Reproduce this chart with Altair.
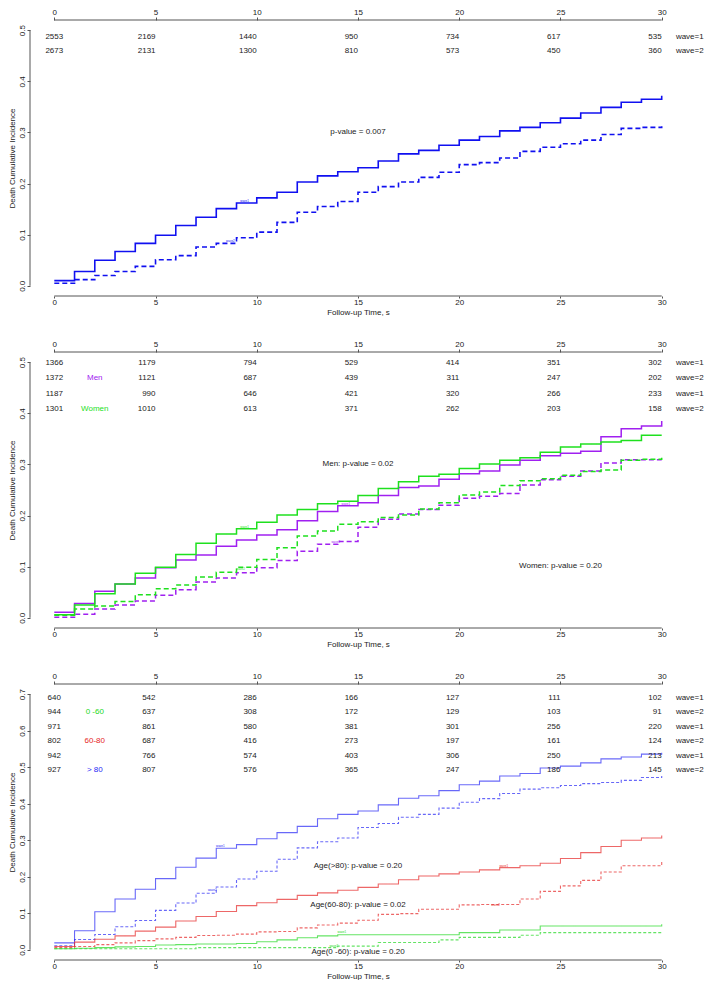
import altair as alt
import pandas as pd

FONT = "Liberation Sans"
TIMES = list(range(31))
X_TICKS = [0, 5, 10, 15, 20, 25, 30]
RISK_TIMES = [0, 5, 10, 15, 20, 25, 30]

# ---------------- Panel 1 : all subjects ----------------
P1_WAVE1 = [0.010, 0.028, 0.050, 0.067, 0.083, 0.099, 0.118, 0.134, 0.151, 0.162,
            0.172, 0.183, 0.203, 0.215, 0.223, 0.231, 0.244, 0.258, 0.265, 0.275,
            0.285, 0.292, 0.303, 0.310, 0.319, 0.328, 0.338, 0.349, 0.359, 0.365, 0.372]
P1_WAVE2 = [0.005, 0.012, 0.020, 0.028, 0.038, 0.051, 0.059, 0.076, 0.083, 0.094,
            0.105, 0.124, 0.144, 0.155, 0.165, 0.183, 0.194, 0.203, 0.212, 0.222,
            0.237, 0.241, 0.250, 0.263, 0.271, 0.278, 0.285, 0.296, 0.308, 0.310, 0.312]
P1_RISK = [[2553, 2169, 1440, 950, 734, 617, 535],
           [2673, 2131, 1300, 810, 573, 450, 360]]
P1_ROW_Y = [0.486, 0.460]
P1_PVALUES = [("p-value = 0.007", 15, 0.300)]

# ---------------- Panel 2 : Men / Women ----------------
P2_MEN_W1 = [0.011, 0.028, 0.052, 0.066, 0.078, 0.098, 0.113, 0.123, 0.140, 0.152,
             0.162, 0.172, 0.190, 0.208, 0.219, 0.225, 0.239, 0.255, 0.258, 0.271,
             0.282, 0.287, 0.299, 0.308, 0.317, 0.322, 0.326, 0.354, 0.370, 0.375, 0.385]
P2_MEN_W2 = [0.001, 0.007, 0.017, 0.025, 0.033, 0.044, 0.055, 0.070, 0.078, 0.088,
             0.098, 0.112, 0.130, 0.144, 0.149, 0.177, 0.193, 0.203, 0.212, 0.220,
             0.234, 0.238, 0.243, 0.260, 0.270, 0.277, 0.287, 0.303, 0.309, 0.309, 0.309]
P2_WOMEN_W1 = [0.006, 0.025, 0.047, 0.066, 0.087, 0.099, 0.124, 0.146, 0.164, 0.174,
               0.187, 0.201, 0.212, 0.223, 0.228, 0.239, 0.253, 0.266, 0.277, 0.281,
               0.292, 0.301, 0.308, 0.313, 0.324, 0.334, 0.340, 0.344, 0.347, 0.357, 0.357]
P2_WOMEN_W2 = [0.005, 0.017, 0.023, 0.032, 0.045, 0.057, 0.064, 0.080, 0.089, 0.099,
               0.114, 0.137, 0.160, 0.170, 0.183, 0.188, 0.196, 0.201, 0.213, 0.225,
               0.240, 0.246, 0.259, 0.268, 0.272, 0.279, 0.286, 0.289, 0.308, 0.310, 0.314]
P2_RISK = [[1366, 1179, 794, 529, 414, 351, 302],
           [1372, 1121, 687, 439, 311, 247, 202],
           [1187, 990, 646, 421, 320, 266, 233],
           [1301, 1010, 613, 371, 262, 203, 158]]
P2_ROW_Y = [0.498, 0.469, 0.438, 0.409]
P2_GROUP_LABELS = [("Men", 1), ("Women", 3)]
P2_PVALUES = [("Men: p-value = 0.02", 15, 0.301), ("Women: p-value = 0.20", 25, 0.102)]

# ---------------- Panel 3 : age groups ----------------
P3_O80_W1 = [0.019, 0.052, 0.104, 0.139, 0.166, 0.195, 0.226, 0.251, 0.278, 0.288,
             0.304, 0.321, 0.338, 0.359, 0.371, 0.380, 0.397, 0.415, 0.422, 0.436,
             0.452, 0.462, 0.476, 0.483, 0.498, 0.503, 0.512, 0.523, 0.528, 0.536, 0.540]
P3_O80_W2 = [0.011, 0.028, 0.042, 0.063, 0.080, 0.108, 0.128, 0.155, 0.172, 0.194,
             0.215, 0.248, 0.279, 0.296, 0.306, 0.335, 0.346, 0.363, 0.371, 0.388,
             0.404, 0.414, 0.428, 0.440, 0.444, 0.450, 0.455, 0.458, 0.464, 0.472, 0.476]
P3_6080_W1 = [0.009, 0.021, 0.029, 0.038, 0.051, 0.062, 0.079, 0.091, 0.105, 0.121,
              0.129, 0.138, 0.149, 0.156, 0.163, 0.171, 0.180, 0.192, 0.202, 0.208,
              0.213, 0.219, 0.225, 0.230, 0.237, 0.250, 0.266, 0.283, 0.300, 0.306, 0.313]
P3_6080_W2 = [0.006, 0.009, 0.014, 0.019, 0.025, 0.030, 0.034, 0.039, 0.040, 0.043,
              0.049, 0.050, 0.060, 0.068, 0.073, 0.081, 0.097, 0.099, 0.111, 0.111,
              0.123, 0.124, 0.124, 0.139, 0.160, 0.175, 0.190, 0.213, 0.230, 0.230, 0.242]
P3_060_W1 = [0.003, 0.004, 0.006, 0.008, 0.009, 0.013, 0.014, 0.016, 0.016, 0.017,
             0.022, 0.027, 0.033, 0.038, 0.041, 0.041, 0.041, 0.041, 0.041, 0.041,
             0.047, 0.047, 0.054, 0.054, 0.065, 0.065, 0.065, 0.065, 0.065, 0.065, 0.070]
P3_060_W2 = [0.003, 0.003, 0.003, 0.003, 0.003, 0.003, 0.003, 0.006, 0.006, 0.006,
             0.006, 0.006, 0.006, 0.006, 0.010, 0.010, 0.020, 0.020, 0.020, 0.027,
             0.034, 0.034, 0.034, 0.040, 0.047, 0.047, 0.047, 0.047, 0.047, 0.047, 0.050]
P3_RISK = [[640, 542, 286, 166, 127, 111, 102],
           [944, 637, 308, 172, 129, 103, 91],
           [971, 861, 580, 381, 301, 256, 220],
           [802, 687, 416, 273, 197, 161, 124],
           [942, 766, 574, 403, 306, 250, 213],
           [927, 807, 576, 365, 247, 186, 145]]
P3_ROW_Y = [0.689, 0.652, 0.611, 0.571, 0.530, 0.493]
P3_GROUP_LABELS = [("0 -60", 1), ("60-80", 3), ("> 80", 5)]
P3_PVALUES = [("Age(>80): p-value = 0.20", 15, 0.230),
              ("Age(60-80): p-value = 0.02", 15, 0.123),
              ("Age(0 -60): p-value = 0.20", 15, -0.005)]

WAVE_LABELS = ["wave=1", "wave=2"]


def curves_frame(series):
    rows = []
    for group, wave, vals in series:
        for t, v in zip(TIMES, vals):
            rows.append({"group": group, "wave": wave, "t": t, "v": v})
    return pd.DataFrame(rows)


def make_panel(series, color_domain, color_range, dash_range, line_width, line_opacity,
               ydom, yticks, risk, row_y, group_labels, pvalues, tiny):
    xs = alt.Scale(domain=[-1.2, 31.2], nice=False, zero=False)
    ys = alt.Scale(domain=ydom, nice=False, zero=False)
    cscale = alt.Scale(domain=color_domain, range=color_range)

    lines = alt.Chart(curves_frame(series)).mark_line(
        interpolate="step-after", strokeWidth=line_width, opacity=line_opacity
    ).encode(
        x=alt.X("t:Q", scale=xs, axis=alt.Axis(
            orient="bottom", values=X_TICKS, title="Follow-up Time, s", domain=False,
            grid=False, tickSize=2, labelPadding=0, titlePadding=2, format="d")),
        y=alt.Y("v:Q", scale=ys, axis=alt.Axis(
            orient="left", values=yticks, title="Death Cumulative Incidence", format=".1f",
            labelAngle=-90, labelAlign="center", labelBaseline="bottom", domain=False,
            grid=False, tickSize=3, labelPadding=1, titlePadding=2)),
        color=alt.Color("group:N", scale=cscale, legend=None),
        strokeDash=alt.StrokeDash("wave:N", scale=alt.Scale(domain=["1", "2"], range=dash_range),
                                  legend=None),
    )

    axis_lines = pd.DataFrame([
        {"t": 0, "t2": 30, "v": ydom[0], "v2": ydom[0]},
        {"t": 0, "t2": 30, "v": ydom[1], "v2": ydom[1]},
        {"t": -1.2, "t2": -1.2, "v": yticks[0], "v2": yticks[-1]},
    ])
    rules = alt.Chart(axis_lines).mark_rule(color="#555555", strokeWidth=1).encode(
        x=alt.X("t:Q", scale=xs, axis=None), x2="t2:Q",
        y=alt.Y("v:Q", scale=ys, axis=None), y2="v2:Q",
    )

    first, rest, wl = [], [], []
    for i, row in enumerate(risk):
        for j, n in enumerate(row):
            rec = {"t": RISK_TIMES[j], "v": row_y[i], "label": str(n)}
            (first if j == 0 else rest).append(rec)
        wl.append({"t": 30.7, "v": row_y[i], "label": WAVE_LABELS[i % 2]})

    risk_rest = alt.Chart(pd.DataFrame(rest)).mark_text(
        align="right", baseline="middle", fontSize=8, color="#222222"
    ).encode(
        x=alt.X("t:Q", scale=xs, axis=alt.Axis(
            orient="top", values=X_TICKS, title=None, domain=False, grid=False,
            tickSize=3, labelPadding=1, format="d")),
        y=alt.Y("v:Q", scale=ys, axis=None),
        text="label:N",
    )
    risk_first = alt.Chart(pd.DataFrame(first)).mark_text(
        align="center", baseline="middle", fontSize=8, color="#222222"
    ).encode(
        x=alt.X("t:Q", scale=xs, axis=None), y=alt.Y("v:Q", scale=ys, axis=None),
        text="label:N",
    )
    wave_text = alt.Chart(pd.DataFrame(wl)).mark_text(
        align="left", baseline="middle", fontSize=8, color="#222222"
    ).encode(
        x=alt.X("t:Q", scale=xs, axis=None), y=alt.Y("v:Q", scale=ys, axis=None),
        text="label:N",
    )
    pv = pd.DataFrame([{"label": s, "t": t, "v": v} for s, t, v in pvalues])
    pv_text = alt.Chart(pv).mark_text(
        align="center", baseline="middle", fontSize=8, color="#222222"
    ).encode(
        x=alt.X("t:Q", scale=xs, axis=None), y=alt.Y("v:Q", scale=ys, axis=None),
        text="label:N",
    )
    tiny_df = pd.DataFrame([{"group": g, "label": s, "t": t, "v": v} for g, s, t, v in tiny])
    tiny_text = alt.Chart(tiny_df).mark_text(
        align="center", baseline="bottom", fontSize=3
    ).encode(
        x=alt.X("t:Q", scale=xs, axis=None), y=alt.Y("v:Q", scale=ys, axis=None),
        text="label:N", color=alt.Color("group:N", scale=cscale, legend=None),
    )
    layers = [lines, rules, risk_rest, risk_first, wave_text, pv_text, tiny_text]
    if group_labels:
        gl = pd.DataFrame([{"group": g, "label": g, "t": 2, "v": row_y[i]} for g, i in group_labels])
        layers.append(alt.Chart(gl).mark_text(
            align="center", baseline="middle", fontSize=8
        ).encode(
            x=alt.X("t:Q", scale=xs, axis=None), y=alt.Y("v:Q", scale=ys, axis=None),
            text="label:N", color=alt.Color("group:N", scale=cscale, legend=None),
        ))
    return alt.layer(*layers).resolve_axis(x="independent", y="independent").properties(
        width=656, height=276)


p1 = make_panel(
    [("all", "1", P1_WAVE1), ("all", "2", P1_WAVE2)],
    ["all"], ["#1010F0"], [[1, 0], [5, 3]], 1.6, 1.0,
    [-0.02, 0.52], [0, 0.1, 0.2, 0.3, 0.4, 0.5], P1_RISK, P1_ROW_Y, [], P1_PVALUES,
    [("all", "wave1", 9.4, 0.163), ("all", "wave2", 8.7, 0.085)],
)
p2 = make_panel(
    [("Men", "1", P2_MEN_W1), ("Men", "2", P2_MEN_W2),
     ("Women", "1", P2_WOMEN_W1), ("Women", "2", P2_WOMEN_W2)],
    ["Men", "Women"], ["#A020F0", "#1EE01E"], [[1, 0], [5, 3]], 1.5, 1.0,
    [-0.02, 0.52], [0, 0.1, 0.2, 0.3, 0.4, 0.5], P2_RISK, P2_ROW_Y, P2_GROUP_LABELS, P2_PVALUES,
    [("Women", "wave1", 9.4, 0.175), ("Men", "wave1", 14.4, 0.220),
     ("Women", "wave2", 9.2, 0.093), ("Men", "wave2", 13.9, 0.145)],
)
p3 = make_panel(
    [("> 80", "1", P3_O80_W1), ("> 80", "2", P3_O80_W2),
     ("60-80", "1", P3_6080_W1), ("60-80", "2", P3_6080_W2),
     ("0 -60", "1", P3_060_W1), ("0 -60", "2", P3_060_W2)],
    ["0 -60", "60-80", "> 80"], ["#22D822", "#E62626", "#2828F5"], [[1, 0], [3, 2]], 1.1, 0.7,
    [-0.028, 0.728], [0, 0.1, 0.2, 0.3, 0.4, 0.5, 0.6, 0.7], P3_RISK, P3_ROW_Y, P3_GROUP_LABELS,
    P3_PVALUES,
    [("> 80", "wave1", 8.2, 0.280), ("> 80", "wave2", 7.8, 0.158),
     ("60-80", "wave1", 22.2, 0.225), ("60-80", "wave2", 21.8, 0.118),
     ("0 -60", "wave1", 14.2, 0.043), ("0 -60", "wave2", 13.8, 0.006)],
)

chart = alt.vconcat(p1, p2, p3, spacing=24).resolve_scale(
    color="independent", strokeDash="independent"
).properties(padding=0).configure_view(
    stroke=None
).configure_axis(
    labelFont=FONT, titleFont=FONT, labelFontSize=8, titleFontSize=8,
    labelColor="#222222", titleColor="#222222", tickColor="#555555",
    titleFontWeight="normal", tickWidth=1
).configure_text(font=FONT)

chart.save("out.html", embed_options={"renderer": "svg", "actions": False})
